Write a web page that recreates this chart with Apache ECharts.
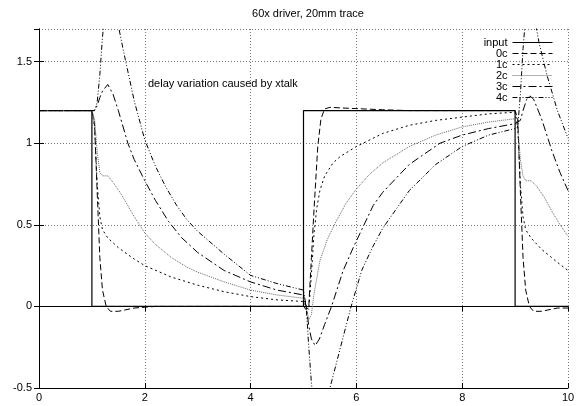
<!DOCTYPE html>
<html>
<head>
<meta charset="utf-8">
<script src="https://cdn.jsdelivr.net/npm/echarts@6/dist/echarts.min.js"></script>
<style>
  html, body { margin: 0; padding: 0; background: #fff; }
  #container { width: 579px; height: 406px; }
</style>
</head>
<body>
<div id="container"></div>
<script>
var dom = document.getElementById("container");
var myChart = echarts.init(dom);

// tick values
var xTicks = [0, 2, 4, 6, 8, 10];
var yTicks = [-0.5, 0, 0.5, 1, 1.5];

// [time, voltage]
var input = [[0,1.2],[1,1.2],[1,0],[5,0],[5,1.2],[9,1.2],[9,0],[10,0]];

var c0 = [[0,1.2],[1,1.2],[1.05,1.12],[1.1,0.7],[1.15,0.3],[1.2,0.1],[1.27,0],[1.35,-0.03],[1.5,-0.03],[1.8,-0.01],
  [2.2,0],[5,0],[5.05,-0.02],[5.1,0],[5.15,0.3],[5.2,0.6],[5.27,0.98],[5.33,1.15],[5.4,1.21],[5.5,1.22],[5.8,1.215],
  [6.5,1.205],[7,1.2],[9,1.2],[9.05,1.15],[9.1,0.7],[9.15,0.3],[9.2,0.1],[9.27,0],[9.35,-0.03],[9.5,-0.03],[9.8,-0.01],[10,-0.01]];

var c1 = [[0,1.2],[1,1.2],[1.05,1.1],[1.1,0.75],[1.15,0.55],[1.2,0.47],[1.3,0.42],[1.5,0.36],[1.8,0.29],[2,0.25],
  [2.5,0.18],[3,0.13],[3.5,0.09],[4,0.06],[4.5,0.04],[5,0.03],[5.05,0],[5.1,-0.02],[5.15,0.2],[5.2,0.45],[5.25,0.6],
  [5.31,0.71],[5.4,0.8],[5.56,0.88],[5.7,0.92],[6,0.98],[6.5,1.06],[7,1.11],[7.5,1.14],[8,1.16],[8.5,1.18],[9,1.19],
  [9.05,1.1],[9.1,0.75],[9.15,0.55],[9.2,0.47],[9.3,0.42],[9.5,0.35],[9.8,0.27],[10,0.22]];

var c2 = [[0,1.2],[1,1.2],[1.05,1.15],[1.1,0.95],[1.15,0.82],[1.2,0.8],[1.3,0.8],[1.4,0.76],[1.55,0.69],[1.8,0.55],
  [2,0.45],[2.2,0.38],[2.5,0.3],[2.8,0.24],[3,0.21],[3.5,0.15],[4,0.1],[4.5,0.07],[5,0.05],[5.05,0],[5.1,-0.08],
  [5.15,-0.05],[5.2,0.08],[5.31,0.28],[5.45,0.41],[5.6,0.51],[5.8,0.63],[6,0.72],[6.25,0.81],[6.5,0.88],[7,0.98],
  [7.5,1.05],[8,1.1],[8.5,1.13],[9,1.15],[9.05,1.1],[9.1,0.9],[9.15,0.8],[9.2,0.77],[9.3,0.77],[9.4,0.74],[9.55,0.67],
  [9.7,0.58],[9.85,0.5],[10,0.43]];

var c3 = [[0,1.2],[1,1.2],[1.05,1.2],[1.1,1.23],[1.15,1.28],[1.2,1.32],[1.3,1.36],[1.4,1.3],[1.5,1.2],[1.68,1],
  [1.8,0.9],[2,0.77],[2.2,0.65],[2.45,0.52],[2.7,0.42],[3,0.33],[3.5,0.22],[4,0.15],[4.5,0.1],[5,0.07],[5.05,0],
  [5.1,-0.12],[5.15,-0.2],[5.22,-0.24],[5.3,-0.2],[5.4,-0.11],[5.53,0],[5.75,0.22],[5.94,0.36],[6.1,0.47],[6.32,0.62],
  [6.5,0.7],[7,0.87],[7.58,1],[8,1.05],[8.5,1.09],[9,1.12],[9.1,1.14],[9.15,1.2],[9.22,1.27],[9.28,1.29],[9.35,1.27],
  [9.5,1.15],[9.7,0.95],[9.85,0.82],[10,0.71]];

var c4 = [[0,1.2],[1,1.2],[1.05,1.2],[1.1,1.25],[1.15,1.42],[1.2,1.65],[1.25,1.82],[1.3,1.9],[1.4,1.88],[1.5,1.72],
  [1.6,1.56],[1.8,1.26],[2,1.02],[2.2,0.86],[2.4,0.73],[2.6,0.62],[2.8,0.53],[3,0.46],[3.5,0.32],[4,0.19],[4.5,0.14],
  [5,0.1],[5.05,0],[5.1,-0.25],[5.15,-0.47],[5.2,-0.62],[5.3,-0.72],[5.4,-0.64],[5.5,-0.5],[5.7,-0.25],[5.9,0],
  [6.1,0.22],[6.3,0.36],[6.5,0.48],[7,0.71],[7.5,0.87],[8,0.98],[8.5,1.05],[9,1.09],[9.05,1.1],[9.1,1.3],[9.15,1.58],
  [9.2,1.78],[9.27,1.88],[9.35,1.8],[9.45,1.62],[9.6,1.42],[9.8,1.2],[10,1.03]];

var names = ['input', '0c', '1c', '2c', '3c', '4c'];
var curves = [input, c0, c1, c2, c3, c4];
var dashes = ['solid', [6, 3], [2, 3], [1, 1], [8, 3, 2, 3], [5, 2, 1, 2, 1, 2]];
var colors = ['#000', '#000', '#000', '#666', '#000', '#000'];

var font = 'Liberation Sans, Arial, Helvetica, sans-serif';

var series = [];
for (var i = 0; i < curves.length; i++) {
    series.push({
        name: names[i],
        type: 'line',
        data: curves[i],
        symbol: 'none',
        animation: false,
        lineStyle: { color: colors[i], width: i === 0 ? 1.2 : 1, type: dashes[i] },
        itemStyle: { color: colors[i] }
    });
}

var gridLine = { show: true, lineStyle: { color: '#777', type: [1, 2], width: 1 } };

var option = {
    backgroundColor: '#fff',
    animation: false,
    title: [{
        text: '60x driver, 20mm trace',
        left: 303, top: 3, textAlign: 'center',
        textStyle: { fontSize: 11, fontWeight: 'normal', color: '#000', fontFamily: font }
    }, {
        text: 'delay variation caused by xtalk',
        left: 143, top: 73,
        textStyle: { fontSize: 11, fontWeight: 'normal', color: '#000', fontFamily: font }
    }],
    legend: {
        data: names,
        orient: 'vertical',
        right: 21, top: 32,
        align: 'right',
        itemWidth: 40, itemHeight: 10, itemGap: 0,
        itemStyle: { opacity: 0 },
        lineStyle: { width: 1 },
        textStyle: { fontSize: 11, color: '#000', fontFamily: font },
        inactiveColor: '#000'
    },
    grid: { left: 39, right: 11, top: 29, bottom: 18, containLabel: false },
    xAxis: [{
        type: 'value', min: xTicks[0], max: xTicks[xTicks.length - 1], interval: 2,
        axisLine: { show: true, onZero: false, lineStyle: { color: '#000', width: 1 } },
        axisTick: { show: true, inside: true, length: 5, lineStyle: { color: '#000' } },
        axisLabel: { color: '#000', fontSize: 11, fontFamily: font, margin: 4 },
        splitLine: gridLine
    }, {
        type: 'value', position: 'top', min: 0, max: 10, interval: 2,
        axisLine: { show: true, lineStyle: { color: '#000', width: 1 } },
        axisTick: { show: true, inside: true, length: 5, lineStyle: { color: '#000' } },
        axisLabel: { show: false },
        splitLine: { show: false }
    }],
    yAxis: [{
        type: 'value', min: yTicks[0], max: 1.7, interval: 0.5,
        axisLine: { show: true, onZero: false, lineStyle: { color: '#000', width: 1 } },
        axisTick: { show: true, inside: true, length: 5, lineStyle: { color: '#000' } },
        axisLabel: { color: '#000', fontSize: 11, fontFamily: font, margin: 7, showMaxLabel: false,
            formatter: function (v) { return yTicks.indexOf(v) >= 0 ? String(v) : ''; } },
        splitLine: gridLine
    }, {
        type: 'value', position: 'right', min: -0.5, max: 1.7, interval: 0.5,
        axisLine: { show: true, lineStyle: { color: '#000', width: 1 } },
        axisTick: { show: true, inside: true, length: 5, lineStyle: { color: '#000' } },
        axisLabel: { show: false },
        splitLine: { show: false }
    }],
    series: series
};

myChart.setOption(option);
</script>
</body>
</html>
